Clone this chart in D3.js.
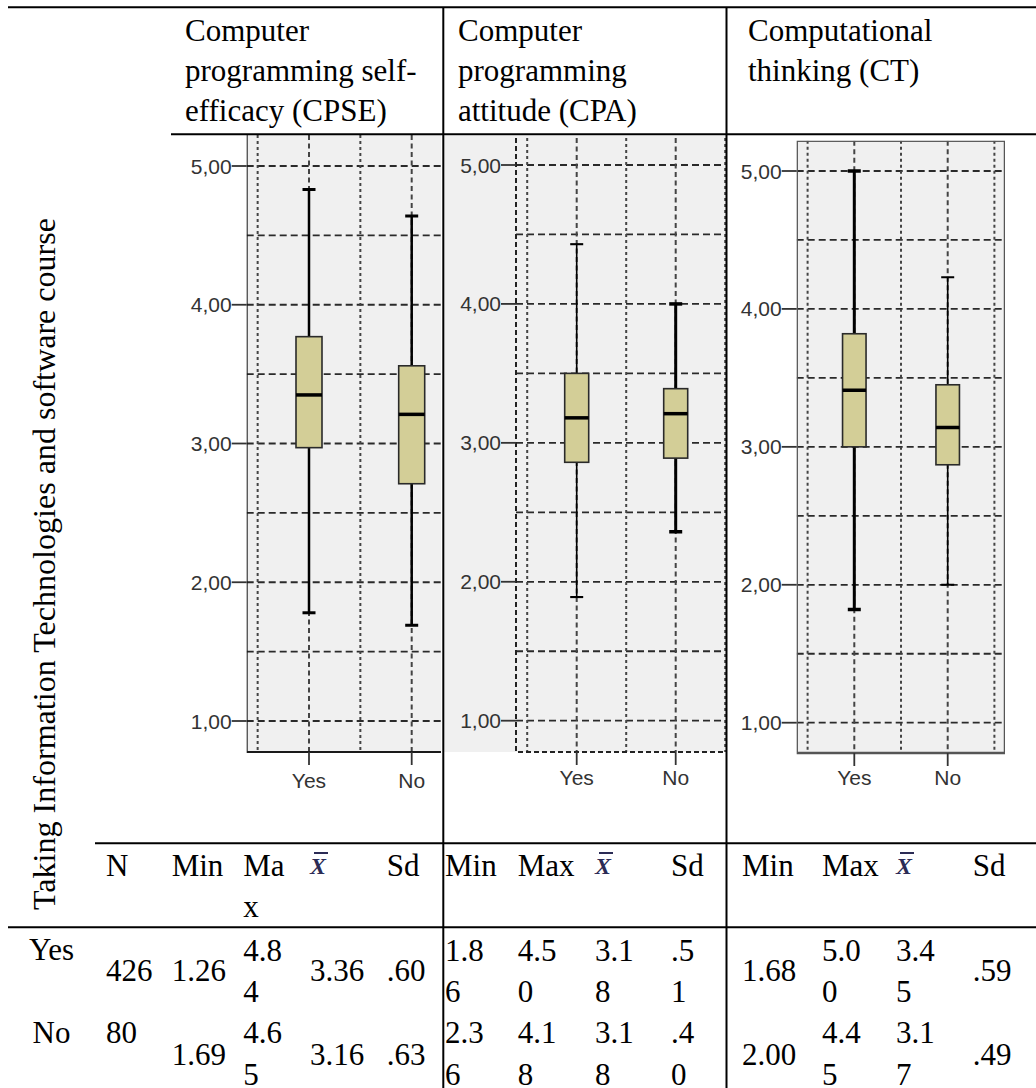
<!DOCTYPE html>
<html>
<head>
<meta charset="utf-8">
<script src="https://cdn.jsdelivr.net/npm/d3@7"></script>
<style> body { margin: 0; background: #fff; } </style>
</head>
<body>
<div id="chart"></div>
<script>

// ---- data ----
var groups = ["Yes", "No"];
var headerLines = [
    ["Computer", "programming self-", "efficacy (CPSE)"],
    ["Computer", "programming", "attitude (CPA)"],
    ["Computational", "thinking (CT)"]
];
var sideLabel = "Taking Information Technologies and software course";
var yTicks = [1, 2, 3, 4, 5];
var yGrid = [1, 1.5, 2, 2.5, 3, 3.5, 4, 4.5, 5];

// box plots: low whisker, Q1, median, Q3, high whisker (Yes, No)
var cpseBox = [[1.78, 2.97, 3.35, 3.77, 4.83], [1.69, 2.71, 3.21, 3.56, 4.64]];
var cpaBox  = [[1.89, 2.86, 3.18, 3.50, 4.43], [2.36, 2.89, 3.21, 3.39, 4.00]];
var ctBox   = [[1.82, 3.00, 3.41, 3.82, 5.00], [2.00, 2.87, 3.14, 3.45, 4.23]];

// descriptive table
var nValues = [426, 80];
var cpseMin = [1.26, 1.69], cpseMax = [4.84, 4.65], cpseMean = [3.36, 3.16], cpseSd = [0.60, 0.63];
var cpaMin  = [1.86, 2.36], cpaMax  = [4.50, 4.18], cpaMean  = [3.18, 3.18], cpaSd  = [0.51, 0.40];
var ctMin   = [1.68, 2.00], ctMax   = [5.00, 4.45], ctMean   = [3.45, 3.17], ctSd   = [0.59, 0.49];

// ---- layout ----
var W = 1036, H = 1088;
var serif = "'Liberation Serif', 'Times New Roman', serif";
var sans = "'Liberation Sans', Arial, sans-serif";
var tFont = 31;

var svg = d3.select("#chart").append("svg")
    .attr("width", W)
    .attr("height", H);

var defs = svg.append("defs");

var panels = [
    {box: cpseBox, cat: [309, 411.7], y: [721, 166], L: 246.7, R: 474, top: 135, bottom: 752,
     bg: [246.7, 135, 441, 752], clipR: 441, frame: "axis", boxW: 26, whW: [2.5, 2.5], labelY: 788},
    {box: cpaBox, cat: [576.7, 675.7], y: [720.7, 165], L: 516, R: 725, top: 138, bottom: 752,
     bg: [444, 136, 726, 752], clipR: 726, frame: "dashed", boxW: 24, whW: [1.6, 3], labelY: 785},
    {box: ctBox, cat: [854.3, 947.7], y: [722.7, 171], L: 796.7, R: 1005, top: 140.7, bottom: 753,
     bg: [796.7, 140.7, 1005, 753], clipR: 1005, frame: "box", boxW: 23.5, whW: [3, 1.6], labelY: 785}
];

function drawPanel(p, i) {

    var x = d3.scalePoint().domain(groups).range(p.cat);
    var y = d3.scaleLinear().domain([1, 5]).range(p.y);
    var step = x("No") - x("Yes");

    defs.append("clipPath").attr("id", "clip" + i)
        .append("rect")
        .attr("x", p.bg[0]).attr("y", p.bg[1])
        .attr("width", p.bg[2] - p.bg[0]).attr("height", p.bg[3] - p.bg[1] + 20);

    var g = svg.append("g").attr("clip-path", "url(#clip" + i + ")");

    g.append("rect")
        .attr("x", p.bg[0]).attr("y", p.bg[1])
        .attr("width", p.bg[2] - p.bg[0]).attr("height", p.bg[3] - p.bg[1])
        .attr("fill", "#f0f0f0");

    var right = Math.min(p.R, p.clipR);

    // horizontal grid
    g.selectAll(".hg").data(yGrid).enter().append("line")
        .attr("x1", p.L).attr("x2", right)
        .attr("y1", d => y(d)).attr("y2", d => y(d))
        .attr("stroke", "#2a2a2a").attr("stroke-width", 1.8)
        .attr("stroke-dasharray", "7,4");

    // vertical grid
    var vx = [
        {x: x("Yes") - step / 2, dense: true},
        {x: x("Yes"), dense: false},
        {x: x("Yes") + step / 2, dense: true},
        {x: x("No"), dense: false},
        {x: x("No") + step / 2, dense: true}
    ];
    g.selectAll(".vg").data(vx).enter().append("line")
        .attr("x1", d => d.x).attr("x2", d => d.x)
        .attr("y1", p.top).attr("y2", p.bottom)
        .attr("stroke", "#444").attr("stroke-width", 2)
        .attr("stroke-dasharray", d => d.dense ? "3,3" : "5,3.5");

    // frame
    if (p.frame == "axis") {
        g.append("path")
            .attr("d", "M" + p.L + "," + p.top + "V" + p.bottom + "H" + right)
            .attr("fill", "none").attr("stroke", "#1a1a1a").attr("stroke-width", 2);
    } else if (p.frame == "dashed") {
        g.append("path")
            .attr("d", "M" + p.L + "," + p.top + "V" + p.bottom + "H" + right)
            .attr("fill", "none").attr("stroke", "#222").attr("stroke-width", 2)
            .attr("stroke-dasharray", "5,3");
    } else {
        g.append("rect")
            .attr("x", p.L).attr("y", p.top)
            .attr("width", p.R - p.L).attr("height", p.bottom - p.top)
            .attr("fill", "none").attr("stroke", "#555").attr("stroke-width", 2.5);
    }

    // boxes
    var bx = g.selectAll(".bx").data(p.box).enter().append("g");

    bx.append("line")
        .attr("x1", (d, j) => x(groups[j])).attr("x2", (d, j) => x(groups[j]))
        .attr("y1", d => y(d[0])).attr("y2", d => y(d[4]))
        .attr("stroke", "#000").attr("stroke-width", (d, j) => p.whW[j]);

    [0, 4].forEach(function(k) {
        bx.append("line")
            .attr("x1", (d, j) => x(groups[j]) - 6.5).attr("x2", (d, j) => x(groups[j]) + 6.5)
            .attr("y1", d => y(d[k])).attr("y2", d => y(d[k]))
            .attr("stroke", "#000").attr("stroke-width", (d, j) => p.whW[j] + 0.5);
    });

    bx.append("rect")
        .attr("x", (d, j) => x(groups[j]) - p.boxW / 2)
        .attr("y", d => y(d[3]))
        .attr("width", p.boxW)
        .attr("height", d => y(d[1]) - y(d[3]))
        .attr("fill", "#d3ce97").attr("stroke", "#2a2a2a").attr("stroke-width", 1.6);

    bx.append("line")
        .attr("x1", (d, j) => x(groups[j]) - p.boxW / 2).attr("x2", (d, j) => x(groups[j]) + p.boxW / 2)
        .attr("y1", d => y(d[2])).attr("y2", d => y(d[2]))
        .attr("stroke", "#000").attr("stroke-width", 3.5);

    // y axis ticks + labels
    var ax = svg.append("g");
    ax.selectAll(".yt").data(yTicks).enter().append("line")
        .attr("x1", p.L - 15).attr("x2", p.L)
        .attr("y1", d => y(d)).attr("y2", d => y(d))
        .attr("stroke", "#333").attr("stroke-width", 1.8);
    ax.selectAll(".yl").data(yTicks).enter().append("text")
        .attr("x", p.L - 15).attr("y", d => y(d))
        .attr("dy", "0.36em")
        .attr("text-anchor", "end")
        .attr("font-family", sans).attr("font-size", 21).attr("fill", "#333")
        .text(d => d3.format(".2f")(d).replace(".", ","));

    // x axis ticks + labels
    ax.selectAll(".xt").data(groups).enter().append("line")
        .attr("x1", d => x(d)).attr("x2", d => x(d))
        .attr("y1", p.bottom).attr("y2", p.bottom + 13)
        .attr("stroke", "#333").attr("stroke-width", 1.8);
    ax.selectAll(".xl").data(groups).enter().append("text")
        .attr("x", d => x(d)).attr("y", p.labelY)
        .attr("text-anchor", "middle")
        .attr("font-family", sans).attr("font-size", 21).attr("fill", "#333")
        .text(d => d);
}

panels.forEach(drawPanel);

// ---- table rules ----
var hLines = [[7.3, 8, W], [134.3, 171, W], [843.3, 95, W], [927.3, 8, W]];
var vLines = [[443.3, 7.3, H], [726.5, 7.3, H]];

svg.selectAll(".hl").data(hLines).enter().append("line")
    .attr("x1", d => d[1]).attr("x2", d => d[2])
    .attr("y1", d => d[0]).attr("y2", d => d[0])
    .attr("stroke", "#000").attr("stroke-width", 2);
svg.selectAll(".vl").data(vLines).enter().append("line")
    .attr("x1", d => d[0]).attr("x2", d => d[0])
    .attr("y1", d => d[1]).attr("y2", d => d[2])
    .attr("stroke", "#000").attr("stroke-width", 2);

function txt(x, y, s, anchor) {
    return svg.append("text")
        .attr("x", x).attr("y", y)
        .attr("text-anchor", anchor || "start")
        .attr("font-family", serif).attr("font-size", tFont).attr("fill", "#000")
        .text(s);
}

// column headers
var headX = [185, 458, 748];
headerLines.forEach(function(lines, i) {
    lines.forEach(function(l, k) { txt(headX[i], 41 + k * 40, l); });
});

// side label
svg.append("text")
    .attr("transform", "translate(55,910) rotate(-90)")
    .attr("font-family", serif).attr("font-size", tFont)
    .attr("textLength", 692).attr("lengthAdjust", "spacingAndGlyphs")
    .text(sideLabel);

// stat header row
var statCols = [
    {x: [171.7, 243.3, 310, 386.7], wrap: [false, true, false, false], hwrap: true,
     vals: [cpseMin, cpseMax, cpseMean, cpseSd]},
    {x: [445, 517.7, 595, 671], wrap: [true, true, true, true], hwrap: false,
     vals: [cpaMin, cpaMax, cpaMean, cpaSd]},
    {x: [742, 822, 896, 972.7], wrap: [false, true, true, false], hwrap: false,
     vals: [ctMin, ctMax, ctMean, ctSd]}
];

function xbar(x, y) {
    svg.append("text")
        .attr("x", x).attr("y", y - 2)
        .attr("font-family", serif).attr("font-style", "italic").attr("font-weight", "bold")
        .attr("font-size", 24).attr("fill", "#2b2b55")
        .text("X");
    svg.append("line")
        .attr("x1", x + 4).attr("x2", x + 18)
        .attr("y1", y - 23).attr("y2", y - 23)
        .attr("stroke", "#2b2b55").attr("stroke-width", 2);
}

txt(106, 876, "N");
statCols.forEach(function(c) {
    txt(c.x[0], 876, "Min");
    if (c.hwrap) {
        txt(c.x[1], 876, "Ma");
        txt(c.x[1], 916.7, "x");
    } else {
        txt(c.x[1], 876, "Max");
    }
    xbar(c.x[2], 876);
    txt(c.x[3], 876, "Sd");
});

// data rows
var rows = [
    {label: 960, top: 960.7, mid: 980.7, bot: 1001.7},
    {label: 1043.3, top: 1043.3, mid: 1065, bot: 1085}
];
var nAlign = ["mid", "top"];

function fmt(v, k) {
    var s = d3.format(".2f")(v);
    return k == 3 ? s.replace(/^0/, "") : s;
}

groups.forEach(function(gname, r) {
    var row = rows[r];
    txt(51.5, row.label, gname, "middle");
    txt(106, row[nAlign[r]], d3.format("d")(nValues[r]));
    statCols.forEach(function(c) {
        c.vals.forEach(function(arr, k) {
            var s = fmt(arr[r], k);
            if (c.wrap[k]) {
                txt(c.x[k], row.top, s.slice(0, s.length - 1));
                txt(c.x[k], row.bot, s.slice(s.length - 1));
            } else {
                txt(c.x[k], row.mid, s);
            }
        });
    });
});

</script>
</body>
</html>
